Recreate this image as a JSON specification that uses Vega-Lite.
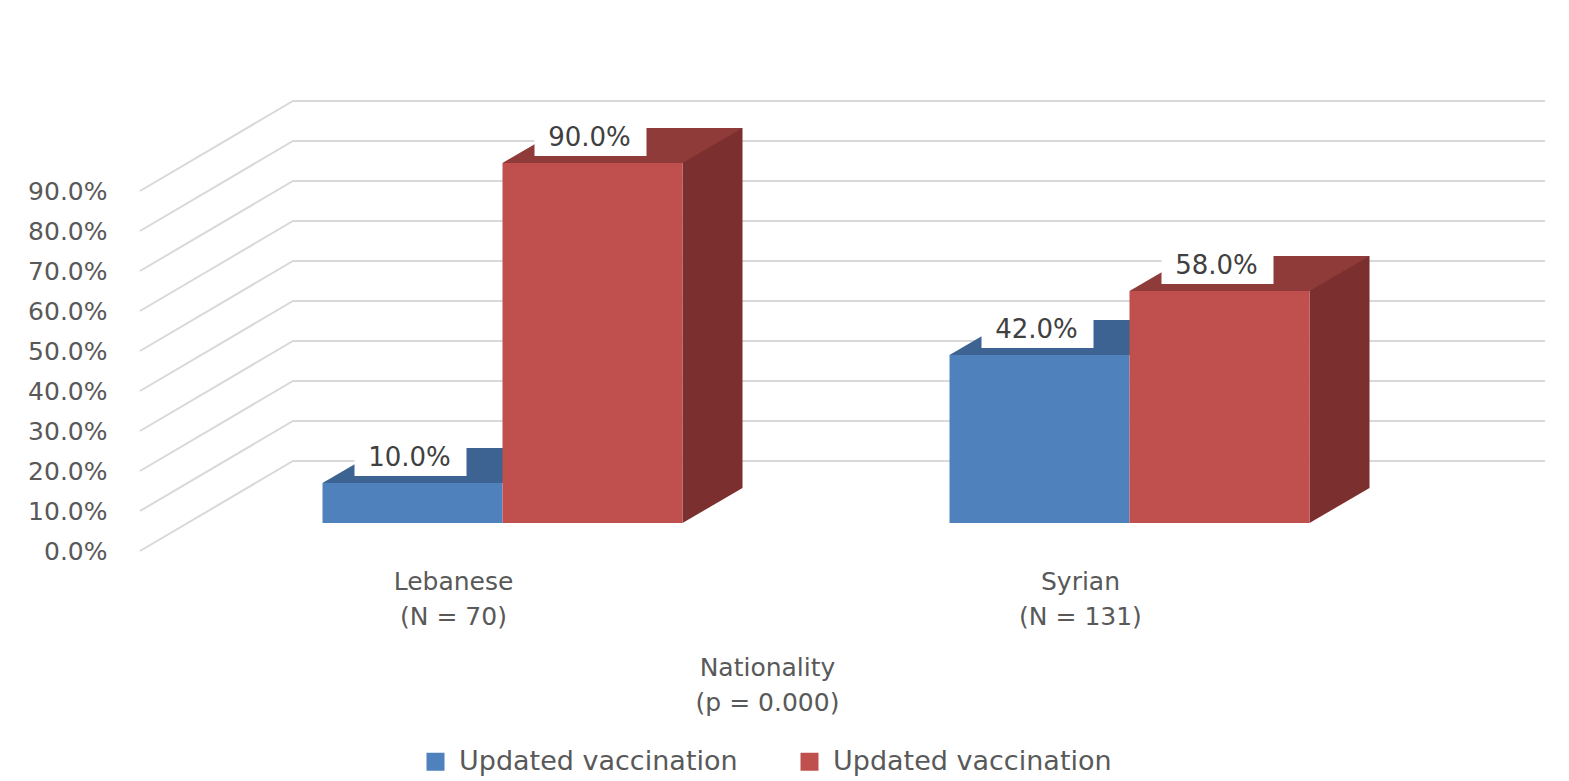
{
  "$schema": "https://vega.github.io/schema/vega-lite/v6.json",
  "width": 1254,
  "height": 400,
  "autosize": {"type": "none"},
  "padding": {"left": 140, "top": 151, "right": 175, "bottom": 230},
  "background": "white",
  "config": {
    "view": {"stroke": null},
    "font": "DejaVu Sans",
    "legend": {"layout": {"bottom": {"anchor": "middle"}}}
  },
  "datasets": {
    "bars": [
      {"nationality": "Lebanese (N = 70)", "series": "No", "value": 0.10},
      {"nationality": "Lebanese (N = 70)", "series": "Yes", "value": 0.90},
      {"nationality": "Syrian (N = 131)", "series": "No", "value": 0.42},
      {"nationality": "Syrian (N = 131)", "series": "Yes", "value": 0.58}
    ],
    "grid": [
      {"tick": 0}, {"tick": 0.1}, {"tick": 0.2}, {"tick": 0.3}, {"tick": 0.4},
      {"tick": 0.5}, {"tick": 0.6}, {"tick": 0.7}, {"tick": 0.8}, {"tick": 0.9}
    ]
  },
  "layer": [
    {
      "data": {"name": "grid"},
      "mark": {"type": "point", "shape": "M-627,0L-474,-90L778,-90", "size": 4, "filled": false, "stroke": "#D9D9D9", "strokeWidth": 2, "opacity": 1},
      "encoding": {
        "y": {
          "field": "tick", "type": "quantitative",
          "scale": {"domain": [0, 1], "nice": false},
          "axis": {
            "values": [0, 0.1, 0.2, 0.3, 0.4, 0.5, 0.6, 0.7, 0.8, 0.9],
            "format": ".1%", "title": null, "domain": false, "ticks": false, "grid": false,
            "labelPadding": 33, "labelFontSize": 25, "labelColor": "#595959"
          }
        }
      }
    },
    {
      "data": {"name": "bars"},
      "transform": [{"filter": "datum.series === 'Yes'"}],
      "mark": {"type": "bar", "width": 60, "xOffset": 259, "yOffset": -63, "y2Offset": -63, "color": "#7B2F2E"},
      "encoding": {
        "x": {"field": "nationality", "type": "nominal"},
        "y": {"field": "value", "type": "quantitative"},
        "y2": {"datum": 0}
      }
    },
    {
      "data": {"name": "bars"},
      "transform": [{"filter": "datum.series === 'Yes'"}],
      "mark": {"type": "point", "shape": "M90,-28L150,-63L90,-63Z", "size": 4, "filled": true, "fill": "#7B2F2E", "strokeWidth": 0, "opacity": 1},
      "encoding": {
        "x": {"field": "nationality", "type": "nominal"},
        "xOffset": {"field": "series", "type": "nominal"},
        "y": {"datum": 0}
      }
    },
    {
      "data": {"name": "bars"},
      "mark": {"type": "point", "shape": "M-90,-28L90,-28L150,-63L-30,-63Z", "size": 4, "filled": true, "strokeWidth": 0, "opacity": 1},
      "encoding": {
        "x": {"field": "nationality", "type": "nominal"},
        "xOffset": {"field": "series", "type": "nominal"},
        "y": {"field": "value", "type": "quantitative"},
        "fill": {"condition": {"test": "datum.series === 'No'", "value": "#3C6391"}, "value": "#8F3B39"}
      }
    },
    {
      "data": {"name": "bars"},
      "mark": {"type": "bar", "yOffset": -28, "y2Offset": -28},
      "encoding": {
        "x": {
          "field": "nationality", "type": "nominal",
          "scale": {"paddingInner": 0, "paddingOuter": 0},
          "axis": {
            "title": ["Nationality", "(p = 0.000)"],
            "labelExpr": "split(replace(datum.label, ' (', '|('), '|')",
            "labelAngle": 0, "labelAlign": "center", "labelBaseline": "top",
            "domain": false, "ticks": false, "grid": false,
            "labelPadding": 18, "labelFontSize": 25, "labelLineHeight": 35, "labelColor": "#595959",
            "titleFontSize": 25, "titleFontWeight": "normal", "titleColor": "#595959",
            "titleLineHeight": 35, "titlePadding": 26
          }
        },
        "xOffset": {
          "field": "series", "type": "nominal",
          "scale": {"paddingInner": 0, "paddingOuter": 0.7417, "align": 0.6835}
        },
        "y": {"field": "value", "type": "quantitative"},
        "y2": {"datum": 0},
        "color": {
          "field": "series", "type": "nominal",
          "scale": {"domain": ["No", "Yes"], "range": ["#4F81BD", "#C0504D"]},
          "legend": {
            "orient": "bottom", "title": null, "labelExpr": "'Updated vaccination'",
            "symbolType": "square", "symbolSize": 324, "symbolStrokeWidth": 0,
            "labelFontSize": 27, "labelColor": "#595959", "labelLimit": 500,
            "columnPadding": 58, "labelOffset": 10, "offset": 33
          }
        }
      }
    },
    {
      "data": {"name": "bars"},
      "mark": {"type": "point", "shape": "M-58,-68H54V-35H-58Z", "size": 4, "filled": true, "fill": "white", "strokeWidth": 0, "opacity": 1},
      "encoding": {
        "x": {"field": "nationality", "type": "nominal"},
        "xOffset": {"field": "series", "type": "nominal"},
        "y": {"field": "value", "type": "quantitative"}
      }
    },
    {
      "data": {"name": "bars"},
      "mark": {"type": "text", "fontSize": 26, "color": "#404040", "dx": -3, "dy": -53, "baseline": "middle", "align": "center"},
      "encoding": {
        "x": {"field": "nationality", "type": "nominal"},
        "xOffset": {"field": "series", "type": "nominal"},
        "y": {"field": "value", "type": "quantitative"},
        "text": {"field": "value", "type": "quantitative", "format": ".1%"}
      }
    }
  ]
}
